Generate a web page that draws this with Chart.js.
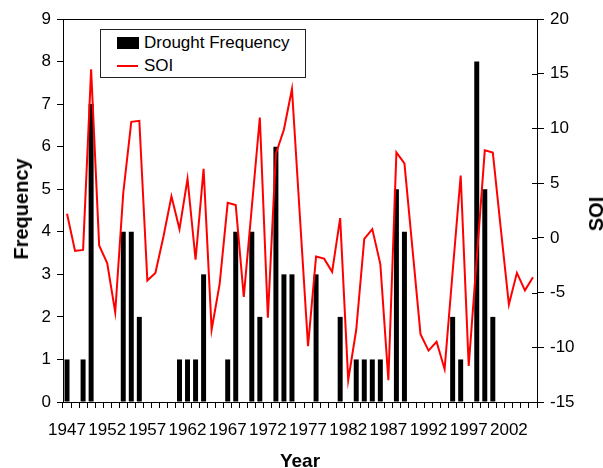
<!DOCTYPE html>
<html>
<head>
<meta charset="utf-8">
<script src="https://cdn.jsdelivr.net/npm/chart.js@4.4.1/dist/chart.umd.min.js"></script>
<style>
  html, body { margin: 0; padding: 0; background: #fff; }
  #wrap { position: relative; width: 603px; height: 468px; font-family: 'Liberation Sans', Arial, sans-serif; color: #000; }
  #chart { position: absolute; left: 0; top: 0; }
  .title { position: absolute; font-weight: bold; font-size: 20px; white-space: nowrap; line-height: 1; }
  .rot { transform: translate(-50%, -50%) rotate(-90deg); }
  #legend { position: absolute; left: 100px; top: 29px; width: 204px; height: 47px; border: 1px solid #222; background: #fff; font-size: 17px; }
  #legend .row { position: absolute; left: 16px; height: 20px; display: flex; align-items: center; }
  #legend .box { width: 22px; height: 12px; background: #000; margin-right: 5px; }
  #legend .ln { width: 21px; height: 2px; background: #ff0000; margin-right: 6px; }
</style>
</head>
<body>
<div id="wrap">
  <canvas id="chart" width="603" height="468"></canvas>
  <div id="legend">
    <div class="row" style="top:3px"><span class="box"></span><span>Drought Frequency</span></div>
    <div class="row" style="top:26px"><span class="ln"></span><span>SOI</span></div>
  </div>
  <div class="title rot" style="left:21px; top:209px;">Frequency</div>
  <div class="title rot" style="left:596px; top:214px;">SOI</div>
  <div class="title" style="left:300px; top:460px; transform: translate(-50%, -50%); font-size:19px;">Year</div>
</div>
<script>
// Years on the x axis
const years = [
  '1947', '1948', '1949', '1950', '1951', '1952', '1953', '1954', '1955', '1956',
  '1957', '1958', '1959', '1960', '1961', '1962', '1963', '1964', '1965', '1966',
  '1967', '1968', '1969', '1970', '1971', '1972', '1973', '1974', '1975', '1976',
  '1977', '1978', '1979', '1980', '1981', '1982', '1983', '1984', '1985', '1986',
  '1987', '1988', '1989', '1990', '1991', '1992', '1993', '1994', '1995', '1996',
  '1997', '1998', '1999', '2000', '2001', '2002', '2003', '2004', '2005'
];

// Drought frequency per year (bars, left axis)
const droughtFreq = [
  1, 0, 1, 7, 0, 0, 0, 4, 4, 2,
  0, 0, 0, 0, 1, 1, 1, 3, 0, 0,
  1, 4, 0, 4, 2, 0, 6, 3, 3, 0,
  0, 3, 0, 0, 2, 0, 1, 1, 1, 1,
  0, 5, 4, 0, 0, 0, 0, 0, 2, 1,
  0, 8, 5, 2, 0, 0, 0, 0, 0
];

// Southern Oscillation Index per year (line, right axis)
const soi = [
  2.2, -1.2, -1.1, 15.4, -0.7, -2.3, -6.8, 4.1, 10.6, 10.7,
  -3.9, -3.2, 0.1, 3.8, 0.8, 5.4, -2.0, 6.3, -8.4, -4.2,
  3.2, 3.0, -5.4, 2.8, 11.0, -7.3, 7.7, 9.9, 13.6, 1.8,
  -9.9, -1.7, -1.9, -3.1, 1.8, -13.0, -8.4, -0.1, 0.8, -2.4,
  -13.0, 7.8, 6.8, -1.0, -8.8, -10.3, -9.5, -12.0, -3.1, 5.7,
  -11.7, -1.9, 8.0, 7.8, 0.8, -6.1, -3.2, -4.8, -3.6
];

const font = { family: "'Liberation Sans', Arial, sans-serif", size: 17 };

// top border line + short inner ticks on the right axis
const framePlugin = {
  id: 'frame',
  afterDraw(chart) {
    const { ctx, chartArea } = chart;
    const y1 = chart.scales.y1;
    ctx.save();
    ctx.strokeStyle = '#000';
    ctx.lineWidth = 1;
    ctx.beginPath();
    ctx.moveTo(chartArea.left, Math.round(chartArea.top) + 0.5);
    ctx.lineTo(chartArea.right, Math.round(chartArea.top) + 0.5);
    y1.ticks.forEach(t => {
      const py = Math.round(y1.getPixelForValue(t.value)) + 0.5;
      ctx.moveTo(chartArea.right - 5, py);
      ctx.lineTo(chartArea.right, py);
    });
    ctx.stroke();
    ctx.restore();
  }
};

new Chart(document.getElementById('chart'), {
  data: {
    labels: years,
    datasets: [
      {
        type: 'line',
        label: 'SOI',
        data: soi,
        yAxisID: 'y1',
        borderColor: '#ff0000',
        borderWidth: 2,
        pointRadius: 0,
        tension: 0,
        order: 0
      },
      {
        type: 'bar',
        label: 'Drought Frequency',
        data: droughtFreq,
        yAxisID: 'y',
        backgroundColor: '#000',
        borderWidth: 0,
        categoryPercentage: 1,
        barPercentage: 0.62,
        order: 1
      }
    ]
  },
  plugins: [framePlugin],
  options: {
    responsive: false,
    animation: false,
    layout: { padding: { top: 19, left: 0, right: 0, bottom: 0 } },
    plugins: { legend: { display: false }, tooltip: { enabled: false } },
    scales: {
      x: {
        type: 'category',
        grid: { drawOnChartArea: false, color: '#000', tickLength: 6, offset: true },
        border: { color: '#000' },
        ticks: {
          autoSkip: false,
          maxRotation: 0,
          minRotation: 0,
          color: '#000',
          font: font,
          padding: 12,
          callback: (v, i) => (i % 5 === 0 ? years[i] : '')
        },
        afterFit: s => { s.height = 66; }
      },
      y: {
        position: 'left',
        min: 0,
        max: 9,
        grid: { drawOnChartArea: false, color: '#000', tickLength: 6 },
        border: { color: '#000' },
        ticks: { stepSize: 1, color: '#000', font: font, padding: 6 },
        afterFit: s => { s.width = 63; }
      },
      y1: {
        position: 'right',
        min: -15,
        max: 20,
        grid: { drawOnChartArea: false, color: '#000', tickLength: 7 },
        border: { color: '#000' },
        ticks: { stepSize: 5, color: '#000', font: font, padding: 6 },
        afterFit: s => { s.width = 66; }
      }
    }
  }
});
</script>
</body>
</html>
